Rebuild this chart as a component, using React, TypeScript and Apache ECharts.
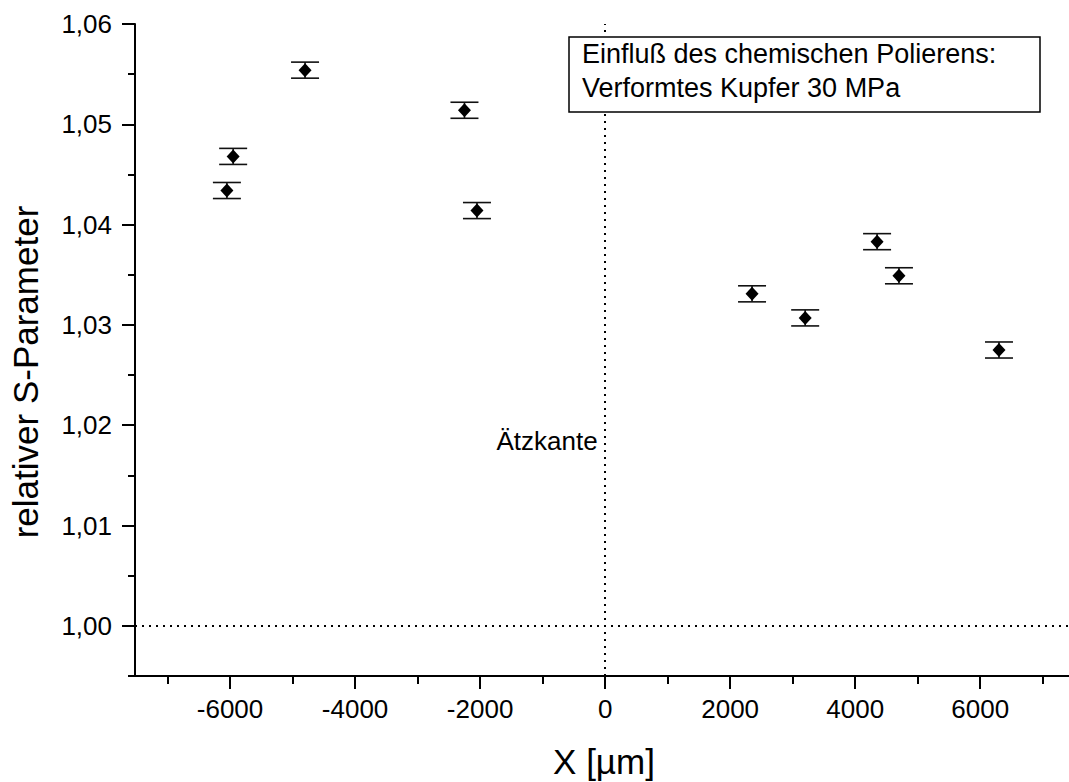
import React, { useEffect, useRef } from "react";
import * as echarts from "echarts";

const xValues = [-6050, -5950, -4800, -2250, -2050, 2350, 3200, 4350, 4700, 6300];
const yValues = [1.0434, 1.0468, 1.0554, 1.0514, 1.0414, 1.0331, 1.0307, 1.0383, 1.0349, 1.0275];
const yErrors = [0.0008, 0.0008, 0.0008, 0.0008, 0.0008, 0.0008, 0.0008, 0.0008, 0.0008, 0.0008];

const xMajorTicks = [-6000, -4000, -2000, 0, 2000, 4000, 6000];
const xMinorTicks = [-7000, -5000, -3000, -1000, 1000, 3000, 5000, 7000];
const yMajorTicks = [1.0, 1.01, 1.02, 1.03, 1.04, 1.05, 1.06];
const yMinorTicks = [0.995, 1.005, 1.015, 1.025, 1.035, 1.045, 1.055];

const edgeX = 0;
const baseY = 1.0;
const edgeLabelY = 1.0184;
const boxLines = ["Einfluß des chemischen Polierens:", "Verformtes Kupfer 30 MPa"];
const xTitle = "X [µm]";
const yTitle = "relativer S-Parameter";
const edgeLabel = "Ätzkante";

const FONT = "Arial, 'Liberation Sans', sans-serif";

export default function App() {
  const ref = useRef<HTMLDivElement>(null);
  useEffect(() => {
    if (!ref.current) return;
    const chart = echarts.init(ref.current, null, { renderer: "svg" });
    const xMin = -7520;
    const xMax = 7420;
    const yMin = 0.995;
    const yMax = 1.06;
    const pts = xValues.map((x, i) => [x, yValues[i]]);
    const errData = xValues.map((x, i) => [x, yValues[i] - yErrors[i], yValues[i] + yErrors[i]]);
    const commonX = { type: "value", min: xMin, max: xMax, splitLine: { show: false } };
    const commonY = { type: "value", min: yMin, max: yMax, splitLine: { show: false } };
    chart.setOption({
      animation: false,
      backgroundColor: "#ffffff",
      grid: { left: 135, right: 0, top: 24, bottom: 106 },
      xAxis: [
        {
          ...commonX,
          position: "bottom",
          axisLine: { show: true, onZero: false, lineStyle: { color: "#000", width: 2 } },
          axisTick: { show: true, customValues: xMajorTicks, length: 13, lineStyle: { color: "#000", width: 2 } },
          axisLabel: {
            customValues: xMajorTicks,
            margin: 20,
            fontSize: 26,
            fontFamily: FONT,
            color: "#000",
            formatter: (v: number) => String(Math.round(v)),
          },
        },
        {
          ...commonX,
          position: "bottom",
          offset: 0,
          axisLine: { show: false, onZero: false },
          axisTick: { show: true, customValues: xMinorTicks, length: 8, lineStyle: { color: "#000", width: 2 } },
          axisLabel: { show: false },
        },
      ],
      yAxis: [
        {
          ...commonY,
          position: "left",
          axisLine: { show: true, onZero: false, lineStyle: { color: "#000", width: 2 } },
          axisTick: { show: true, customValues: yMajorTicks, length: 13, lineStyle: { color: "#000", width: 2 } },
          axisLabel: {
            customValues: yMajorTicks,
            margin: 23,
            fontSize: 26,
            fontFamily: FONT,
            color: "#000",
            formatter: (v: number) => v.toFixed(2).replace(".", ","),
          },
        },
        {
          ...commonY,
          position: "left",
          offset: 0,
          axisLine: { show: false, onZero: false },
          axisTick: { show: true, customValues: yMinorTicks, length: 7, lineStyle: { color: "#000", width: 2 } },
          axisLabel: { show: false },
        },
      ],
      series: [
        {
          type: "custom",
          xAxisIndex: 0,
          yAxisIndex: 0,
          data: errData,
          z: 3,
          renderItem: (params: any, api: any) => {
            const x = api.value(0);
            const lo = api.coord([x, api.value(1)]);
            const hi = api.coord([x, api.value(2)]);
            const hw = 14;
            const style = { stroke: "#111", lineWidth: 1.6 };
            return {
              type: "group",
              children: [
                { type: "line", shape: { x1: lo[0], y1: lo[1], x2: hi[0], y2: hi[1] }, style },
                { type: "line", shape: { x1: lo[0] - hw, y1: lo[1], x2: lo[0] + hw, y2: lo[1] }, style },
                { type: "line", shape: { x1: hi[0] - hw, y1: hi[1], x2: hi[0] + hw, y2: hi[1] }, style },
              ],
            };
          },
        },
        {
          type: "scatter",
          xAxisIndex: 0,
          yAxisIndex: 0,
          data: pts,
          symbol: "diamond",
          symbolSize: [13, 14],
          itemStyle: { color: "#000", opacity: 1 },
          z: 4,
          markLine: {
            silent: true,
            symbol: "none",
            label: { show: false },
            lineStyle: { color: "#000", type: [2, 5], width: 2, opacity: 1 },
            data: [{ xAxis: edgeX }, { yAxis: baseY }],
          },
        },
        {
          type: "scatter",
          xAxisIndex: 0,
          yAxisIndex: 0,
          data: [[edgeX, edgeLabelY]],
          symbolSize: 1,
          itemStyle: { opacity: 0 },
          silent: true,
          label: {
            show: true,
            position: "left",
            distance: 7,
            formatter: edgeLabel,
            fontSize: 26,
            fontFamily: FONT,
            color: "#000",
            opacity: 1,
          },
        },
      ],
      graphic: [
        {
          type: "rect",
          z: 100,
          shape: { x: 569, y: 37, width: 471, height: 75 },
          style: { fill: "#fff", stroke: "#000", lineWidth: 1.5 },
        },
        {
          type: "text",
          z: 101,
          x: 582,
          y: 54,
          style: { text: boxLines[0], fontSize: 27, fontFamily: FONT, fill: "#000", verticalAlign: "middle" },
        },
        {
          type: "text",
          z: 101,
          x: 582,
          y: 88,
          style: { text: boxLines[1], fontSize: 27, fontFamily: FONT, fill: "#000", verticalAlign: "middle" },
        },
        {
          type: "text",
          z: 101,
          x: 604,
          y: 761,
          style: { text: xTitle, fontSize: 35, fontFamily: FONT, fill: "#000", align: "center", verticalAlign: "middle" },
        },
        {
          type: "text",
          z: 101,
          x: 25,
          y: 372,
          rotation: Math.PI / 2,
          style: { text: yTitle, fontSize: 35, fontFamily: FONT, fill: "#000", align: "center", verticalAlign: "middle" },
        },
      ],
    });
    return () => chart.dispose();
  }, []);
  return <div ref={ref} style={{ position: "absolute", left: 0, top: 0, width: 1069, height: 782 }} />;
}
